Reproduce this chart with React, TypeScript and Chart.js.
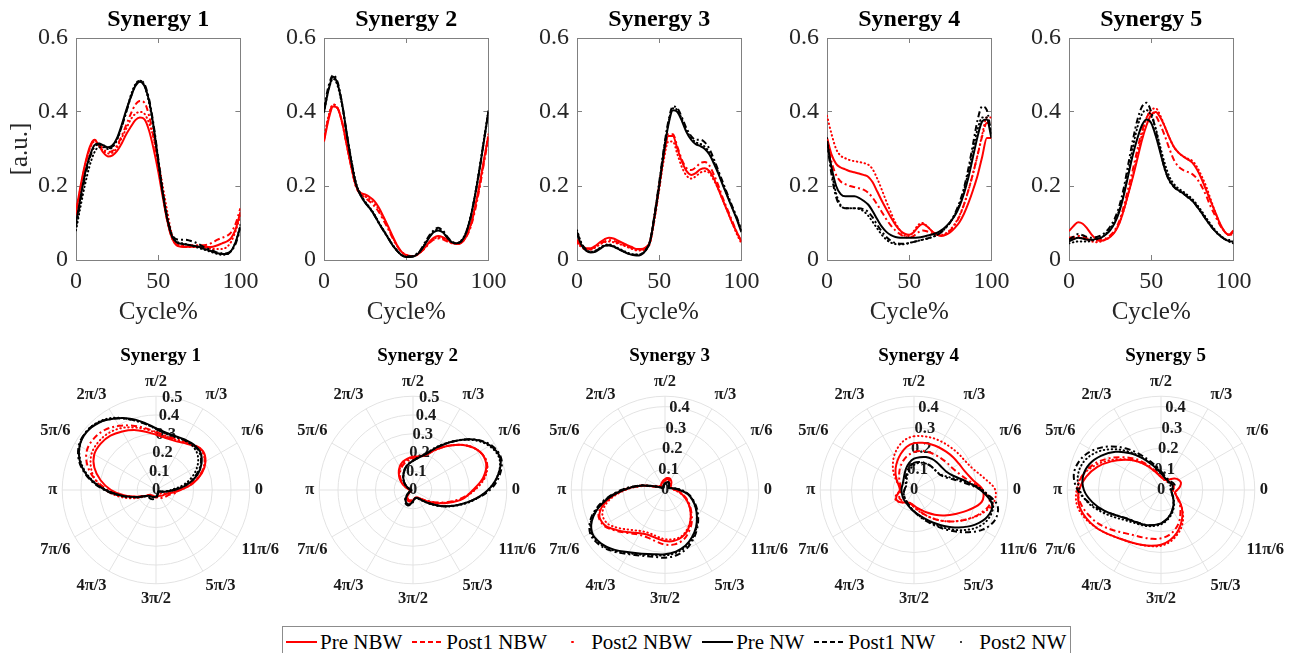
import React, { useEffect, useRef } from 'react';
import { Chart, registerables } from 'chart.js';

Chart.register(...registerables);

// ---------------- DATA ----------------
const CYCLE = [0, 2.78, 5.56, 8.33, 11.11, 13.89, 16.67, 19.44, 22.22, 25, 27.78, 30.56, 33.33, 36.11, 38.89, 41.67, 44.44, 47.22, 50, 52.78, 55.56, 58.33, 61.11, 63.89, 66.67, 69.44, 72.22, 75, 77.78, 80.56, 83.33, 86.11, 88.89, 91.67, 94.44, 97.22, 100];

const SERIES_LABELS = ['Pre NBW', 'Post1 NBW', 'Post2 NBW', 'Pre NW', 'Post1 NW', 'Post2 NW'];
const SYNERGY_TITLES = ['Synergy 1', 'Synergy 2', 'Synergy 3', 'Synergy 4', 'Synergy 5'];
const Y_TICK_VALUES = [0, 0.2, 0.4, 0.6];
const X_TICK_VALUES = [0, 50, 100];
const ANGLE_LABELS = ['0', 'π/6', 'π/3', 'π/2', '2π/3', '5π/6', 'π', '7π/6', '4π/3', '3π/2', '5π/3', '11π/6'];
const POLAR_MAX = [0.5, 0.5, 0.45, 0.45, 0.45];
const POLAR_RINGS_A = [0, 0.1, 0.2, 0.3, 0.4, 0.5];
const POLAR_RINGS_B = [0, 0.1, 0.2, 0.3, 0.4, 0.45];
const POLAR_LABELS_A = ['0', '0.1', '0.2', '0.3', '0.4', '0.5'];
const POLAR_LABELS_B = ['0', '0.1', '0.2', '0.3', '0.4'];

const S1_PRE_NBW = [0.13, 0.20, 0.26, 0.305, 0.325, 0.31, 0.29, 0.28, 0.283, 0.295, 0.315, 0.34, 0.36, 0.378, 0.385, 0.38, 0.35, 0.30, 0.24, 0.17, 0.105, 0.06, 0.04, 0.036, 0.035, 0.036, 0.036, 0.036, 0.035, 0.035, 0.036, 0.04, 0.045, 0.05, 0.06, 0.085, 0.13];
const S1_POST1_NBW = [0.12, 0.19, 0.255, 0.30, 0.325, 0.315, 0.3, 0.292, 0.295, 0.31, 0.335, 0.365, 0.395, 0.42, 0.43, 0.425, 0.39, 0.33, 0.255, 0.175, 0.105, 0.06, 0.042, 0.04, 0.04, 0.04, 0.04, 0.04, 0.04, 0.042, 0.048, 0.055, 0.06, 0.065, 0.075, 0.10, 0.14];
const S1_POST2_NBW = [0.13, 0.195, 0.255, 0.30, 0.32, 0.31, 0.295, 0.288, 0.29, 0.305, 0.33, 0.355, 0.38, 0.395, 0.40, 0.395, 0.37, 0.33, 0.27, 0.2, 0.13, 0.07, 0.045, 0.038, 0.036, 0.035, 0.035, 0.035, 0.034, 0.032, 0.03, 0.03, 0.03, 0.035, 0.05, 0.08, 0.12];
const S1_PRE_NW = [0.10, 0.17, 0.235, 0.28, 0.31, 0.315, 0.31, 0.305, 0.31, 0.33, 0.365, 0.405, 0.44, 0.47, 0.482, 0.47, 0.43, 0.36, 0.27, 0.18, 0.11, 0.065, 0.048, 0.044, 0.042, 0.04, 0.038, 0.035, 0.03, 0.027, 0.022, 0.018, 0.016, 0.016, 0.025, 0.05, 0.09];
const S1_POST1_NW = [0.09, 0.16, 0.225, 0.275, 0.305, 0.312, 0.307, 0.302, 0.307, 0.327, 0.36, 0.40, 0.44, 0.472, 0.485, 0.475, 0.435, 0.365, 0.275, 0.185, 0.115, 0.07, 0.056, 0.055, 0.055, 0.052, 0.048, 0.042, 0.035, 0.03, 0.025, 0.02, 0.018, 0.018, 0.025, 0.045, 0.085];
const S1_POST2_NW = [0.08, 0.145, 0.205, 0.255, 0.29, 0.305, 0.305, 0.30, 0.305, 0.325, 0.36, 0.40, 0.445, 0.475, 0.485, 0.47, 0.425, 0.355, 0.265, 0.18, 0.11, 0.065, 0.05, 0.046, 0.043, 0.04, 0.036, 0.032, 0.028, 0.024, 0.02, 0.016, 0.014, 0.015, 0.025, 0.05, 0.095];

const S2_PRE_NBW = [0.32, 0.38, 0.415, 0.41, 0.37, 0.31, 0.25, 0.20, 0.182, 0.177, 0.17, 0.16, 0.142, 0.118, 0.092, 0.065, 0.04, 0.022, 0.013, 0.01, 0.012, 0.02, 0.032, 0.048, 0.06, 0.065, 0.062, 0.055, 0.047, 0.044, 0.046, 0.06, 0.09, 0.14, 0.20, 0.27, 0.335];
const S2_POST1_NBW = [0.325, 0.385, 0.42, 0.41, 0.37, 0.31, 0.25, 0.198, 0.178, 0.168, 0.158, 0.146, 0.13, 0.108, 0.085, 0.06, 0.038, 0.022, 0.014, 0.011, 0.012, 0.02, 0.03, 0.045, 0.055, 0.058, 0.056, 0.05, 0.045, 0.043, 0.046, 0.06, 0.085, 0.13, 0.19, 0.26, 0.33];
const S2_POST2_NBW = [0.33, 0.39, 0.42, 0.41, 0.37, 0.31, 0.25, 0.2, 0.18, 0.172, 0.164, 0.153, 0.137, 0.113, 0.088, 0.062, 0.039, 0.022, 0.014, 0.01, 0.012, 0.02, 0.031, 0.046, 0.057, 0.06, 0.058, 0.052, 0.046, 0.044, 0.047, 0.062, 0.088, 0.135, 0.195, 0.265, 0.34];
const S2_PRE_NW = [0.40, 0.46, 0.495, 0.475, 0.42, 0.34, 0.265, 0.205, 0.175, 0.155, 0.14, 0.122, 0.10, 0.08, 0.06, 0.04, 0.025, 0.013, 0.008, 0.008, 0.012, 0.022, 0.04, 0.06, 0.075, 0.08, 0.075, 0.06, 0.048, 0.045, 0.05, 0.07, 0.11, 0.17, 0.24, 0.32, 0.40];
const S2_POST1_NW = [0.41, 0.47, 0.50, 0.48, 0.42, 0.34, 0.265, 0.205, 0.176, 0.156, 0.14, 0.122, 0.10, 0.08, 0.06, 0.04, 0.025, 0.013, 0.01, 0.01, 0.014, 0.025, 0.045, 0.065, 0.08, 0.087, 0.08, 0.063, 0.05, 0.046, 0.05, 0.07, 0.11, 0.17, 0.24, 0.32, 0.40];
const S2_POST2_NW = [0.40, 0.46, 0.49, 0.47, 0.415, 0.34, 0.27, 0.21, 0.178, 0.158, 0.142, 0.124, 0.102, 0.082, 0.062, 0.042, 0.026, 0.013, 0.009, 0.009, 0.013, 0.024, 0.042, 0.062, 0.078, 0.083, 0.077, 0.061, 0.048, 0.045, 0.052, 0.072, 0.112, 0.172, 0.245, 0.325, 0.405];

const S3_PRE_NBW = [0.055, 0.04, 0.032, 0.032, 0.038, 0.048, 0.056, 0.06, 0.058, 0.052, 0.046, 0.04, 0.035, 0.03, 0.03, 0.034, 0.05, 0.12, 0.20, 0.28, 0.335, 0.335, 0.30, 0.265, 0.24, 0.23, 0.235, 0.245, 0.248, 0.24, 0.22, 0.19, 0.16, 0.13, 0.10, 0.075, 0.05];
const S3_POST1_NBW = [0.05, 0.038, 0.03, 0.03, 0.036, 0.044, 0.05, 0.054, 0.052, 0.047, 0.042, 0.037, 0.032, 0.028, 0.028, 0.033, 0.05, 0.12, 0.20, 0.285, 0.34, 0.34, 0.305, 0.27, 0.248, 0.243, 0.25, 0.262, 0.265, 0.255, 0.23, 0.2, 0.165, 0.135, 0.105, 0.075, 0.05];
const S3_POST2_NBW = [0.045, 0.035, 0.028, 0.028, 0.034, 0.042, 0.048, 0.05, 0.048, 0.044, 0.04, 0.035, 0.03, 0.026, 0.026, 0.03, 0.046, 0.11, 0.19, 0.27, 0.32, 0.32, 0.285, 0.25, 0.228, 0.22, 0.226, 0.236, 0.24, 0.235, 0.215, 0.19, 0.16, 0.13, 0.10, 0.07, 0.045];
const S3_PRE_NW = [0.07, 0.04, 0.025, 0.02, 0.022, 0.03, 0.038, 0.04, 0.036, 0.03, 0.024, 0.018, 0.014, 0.012, 0.014, 0.025, 0.05, 0.12, 0.20, 0.29, 0.365, 0.405, 0.40, 0.375, 0.345, 0.325, 0.313, 0.308, 0.30, 0.285, 0.26, 0.232, 0.20, 0.17, 0.14, 0.11, 0.075];
const S3_POST1_NW = [0.075, 0.045, 0.028, 0.022, 0.024, 0.032, 0.038, 0.04, 0.036, 0.03, 0.024, 0.018, 0.015, 0.014, 0.016, 0.027, 0.052, 0.125, 0.21, 0.30, 0.375, 0.415, 0.41, 0.385, 0.355, 0.335, 0.325, 0.325, 0.318, 0.30, 0.272, 0.24, 0.208, 0.176, 0.145, 0.115, 0.08];
const S3_POST2_NW = [0.08, 0.045, 0.028, 0.022, 0.025, 0.033, 0.04, 0.042, 0.038, 0.032, 0.026, 0.02, 0.016, 0.015, 0.016, 0.026, 0.05, 0.12, 0.205, 0.295, 0.37, 0.41, 0.405, 0.38, 0.35, 0.33, 0.318, 0.314, 0.306, 0.29, 0.265, 0.235, 0.203, 0.172, 0.142, 0.112, 0.08];

const S4_PRE_NBW = [0.33, 0.285, 0.26, 0.25, 0.245, 0.24, 0.237, 0.234, 0.23, 0.225, 0.21, 0.185, 0.16, 0.137, 0.115, 0.095, 0.08, 0.071, 0.068, 0.075, 0.09, 0.097, 0.09, 0.078, 0.069, 0.065, 0.068, 0.075, 0.087, 0.102, 0.125, 0.155, 0.19, 0.23, 0.28, 0.33, 0.33];
const S4_POST1_NBW = [0.33, 0.265, 0.23, 0.212, 0.205, 0.2, 0.197, 0.194, 0.19, 0.182, 0.168, 0.15, 0.13, 0.11, 0.093, 0.08, 0.07, 0.063, 0.06, 0.065, 0.075, 0.08, 0.077, 0.072, 0.068, 0.066, 0.07, 0.08, 0.095, 0.118, 0.15, 0.19, 0.235, 0.285, 0.335, 0.37, 0.37];
const S4_POST2_NBW = [0.39, 0.34, 0.30, 0.282, 0.275, 0.27, 0.267, 0.265, 0.262, 0.258, 0.245, 0.22, 0.19, 0.158, 0.128, 0.1, 0.08, 0.066, 0.065, 0.078, 0.095, 0.1, 0.09, 0.078, 0.07, 0.068, 0.072, 0.082, 0.098, 0.12, 0.15, 0.19, 0.235, 0.285, 0.34, 0.385, 0.385];
const S4_PRE_NW = [0.32, 0.25, 0.2, 0.178, 0.172, 0.172, 0.172, 0.168, 0.16, 0.15, 0.132, 0.11, 0.09, 0.076, 0.067, 0.062, 0.06, 0.06, 0.06, 0.06, 0.061, 0.063, 0.066, 0.069, 0.073, 0.08, 0.09, 0.103, 0.12, 0.145, 0.18, 0.225, 0.28, 0.335, 0.375, 0.38, 0.33];
const S4_POST1_NW = [0.32, 0.23, 0.17, 0.145, 0.14, 0.14, 0.14, 0.14, 0.137, 0.13, 0.115, 0.095, 0.077, 0.062, 0.052, 0.046, 0.044, 0.044, 0.046, 0.049, 0.052, 0.055, 0.058, 0.062, 0.067, 0.075, 0.087, 0.102, 0.125, 0.155, 0.195, 0.25, 0.315, 0.38, 0.415, 0.405, 0.34];
const S4_POST2_NW = [0.33, 0.24, 0.18, 0.148, 0.14, 0.14, 0.14, 0.138, 0.132, 0.12, 0.103, 0.085, 0.068, 0.055, 0.047, 0.043, 0.042, 0.043, 0.046, 0.049, 0.052, 0.055, 0.058, 0.062, 0.067, 0.075, 0.087, 0.102, 0.123, 0.15, 0.19, 0.24, 0.30, 0.355, 0.385, 0.385, 0.34];

const S5_PRE_NBW = [0.078, 0.092, 0.102, 0.098, 0.085, 0.068, 0.056, 0.052, 0.055, 0.062, 0.075, 0.098, 0.135, 0.18, 0.225, 0.275, 0.325, 0.365, 0.393, 0.40, 0.385, 0.36, 0.33, 0.305, 0.29, 0.28, 0.272, 0.263, 0.245, 0.22, 0.19, 0.16, 0.13, 0.10, 0.078, 0.068, 0.08];
const S5_POST1_NBW = [0.06, 0.062, 0.065, 0.063, 0.058, 0.054, 0.052, 0.054, 0.058, 0.066, 0.08, 0.105, 0.145, 0.195, 0.245, 0.30, 0.35, 0.385, 0.40, 0.39, 0.365, 0.335, 0.30, 0.27, 0.252, 0.243, 0.238, 0.232, 0.22, 0.2, 0.175, 0.145, 0.12, 0.095, 0.078, 0.068, 0.07];
const S5_POST2_NBW = [0.055, 0.058, 0.06, 0.058, 0.054, 0.05, 0.048, 0.05, 0.055, 0.063, 0.077, 0.1, 0.135, 0.18, 0.23, 0.285, 0.34, 0.385, 0.405, 0.41, 0.39, 0.36, 0.33, 0.305, 0.29, 0.28, 0.274, 0.268, 0.252, 0.228, 0.2, 0.165, 0.13, 0.1, 0.078, 0.068, 0.075];
const S5_PRE_NW = [0.05, 0.056, 0.06, 0.058, 0.055, 0.055, 0.057, 0.06, 0.068, 0.08, 0.1, 0.13, 0.175, 0.23, 0.285, 0.33, 0.365, 0.38, 0.37, 0.335, 0.29, 0.245, 0.215, 0.198, 0.188, 0.18, 0.17, 0.16, 0.145, 0.128, 0.11, 0.093, 0.078, 0.066, 0.057, 0.051, 0.05];
const S5_POST1_NW = [0.055, 0.063, 0.07, 0.067, 0.062, 0.06, 0.062, 0.066, 0.075, 0.09, 0.112, 0.145, 0.195, 0.26, 0.325, 0.38, 0.415, 0.425, 0.40, 0.35, 0.295, 0.245, 0.213, 0.197, 0.187, 0.18, 0.17, 0.16, 0.145, 0.128, 0.11, 0.093, 0.078, 0.066, 0.057, 0.054, 0.055];
const S5_POST2_NW = [0.045, 0.048, 0.05, 0.05, 0.05, 0.052, 0.056, 0.06, 0.07, 0.085, 0.105, 0.135, 0.18, 0.24, 0.305, 0.36, 0.395, 0.405, 0.39, 0.355, 0.305, 0.26, 0.225, 0.205, 0.193, 0.185, 0.175, 0.165, 0.15, 0.133, 0.115, 0.097, 0.081, 0.068, 0.058, 0.05, 0.045];

const SYNERGY_DATA = [
  [S1_PRE_NBW, S1_POST1_NBW, S1_POST2_NBW, S1_PRE_NW, S1_POST1_NW, S1_POST2_NW],
  [S2_PRE_NBW, S2_POST1_NBW, S2_POST2_NBW, S2_PRE_NW, S2_POST1_NW, S2_POST2_NW],
  [S3_PRE_NBW, S3_POST1_NBW, S3_POST2_NBW, S3_PRE_NW, S3_POST1_NW, S3_POST2_NW],
  [S4_PRE_NBW, S4_POST1_NBW, S4_POST2_NBW, S4_PRE_NW, S4_POST1_NW, S4_POST2_NW],
  [S5_PRE_NBW, S5_POST1_NBW, S5_POST2_NBW, S5_PRE_NW, S5_POST1_NW, S5_POST2_NW],
];

// ---------------- STYLE / LAYOUT ----------------
const FONT = '"Liberation Serif", "Times New Roman", Times, serif';
const AXIS_COLOR = '#808080';
const TEXT_COLOR = '#262626';
const GRID_COLOR = '#e3e3e3';
const SERIES_STYLE = [
  { color: '#ff0000', dash: [], cap: 'butt' },
  { color: '#ff0000', dash: [6, 3, 2, 3], cap: 'butt' },
  { color: '#ff0000', dash: [0.5, 3.5], cap: 'round' },
  { color: '#000000', dash: [], cap: 'butt' },
  { color: '#000000', dash: [6, 3, 2, 3], cap: 'butt' },
  { color: '#000000', dash: [0.5, 3.5], cap: 'round' },
];
const PLOT_LEFT = [76, 324, 577, 827, 1069];
const PLOT_W = 171;
const PAD_R = 24;
const POLAR_CX = [155, 412, 664, 913, 1160];
const POLAR_W = 245;
const POLAR_H = 268;
const POLAR_TOP = 345;

const makeDatasets = (si: number, polar: boolean) =>
  SYNERGY_DATA[si].map((arr, i) => {
    const st = SERIES_STYLE[i];
    const data = polar
      ? Array.from({ length: 36 }, (_, k) => arr[(9 - k + 36) % 36])
      : CYCLE.map((x, j) => ({ x, y: arr[j] }));
    return {
      label: SERIES_LABELS[i],
      data,
      borderColor: st.color,
      backgroundColor: st.color,
      borderDash: st.dash,
      borderCapStyle: st.cap,
      borderWidth: 2,
      pointRadius: 0,
      fill: false,
      order: 6 - i,
      ...(polar ? { tension: 0.35 } : { cubicInterpolationMode: 'monotone' }),
    };
  });

const rLabelPlugin = {
  id: 'rLabels',
  beforeDatasetsDraw(chart: any, _args: any, opts: any) {
    const s = chart.scales.r;
    const ctx = chart.ctx;
    ctx.save();
    ctx.font = `bold 16.5px ${FONT}`;
    ctx.fillStyle = '#1a1a1a';
    ctx.textAlign = 'center';
    ctx.textBaseline = 'middle';
    const a = (80 * Math.PI) / 180;
    (opts.labels as string[]).forEach((lab, i) => {
      const d = s.getDistanceFromCenterForValue(opts.values[i]);
      ctx.fillText(lab, s.xCenter + d * Math.cos(a), s.yCenter - d * Math.sin(a));
    });
    ctx.restore();
  },
};

function LineChart({ si }: { si: number }) {
  const ref = useRef<HTMLCanvasElement>(null);
  const yW = si === 0 ? 76 : 50;
  const width = yW + PLOT_W + PAD_R;
  useEffect(() => {
    const tickFont = { family: FONT, size: 24 };
    const chart = new Chart(ref.current as HTMLCanvasElement, {
      type: 'line',
      data: { datasets: makeDatasets(si, false) as any },
      options: {
        animation: false,
        responsive: false,
        events: [],
        layout: { padding: { left: 0, right: PAD_R, top: 0, bottom: 0 } },
        plugins: {
          legend: { display: false },
          tooltip: { enabled: false },
          title: {
            display: true,
            fullSize: false,
            text: SYNERGY_TITLES[si],
            color: '#000',
            font: { family: FONT, size: 24, weight: 'bold' },
            padding: { top: 5.6, bottom: 3.6 },
          },
        },
        scales: {
          x: {
            type: 'linear',
            position: 'bottom',
            min: 0,
            max: 100,
            afterBuildTicks: (s: any) => { s.ticks = X_TICK_VALUES.map((v) => ({ value: v })); },
            ticks: { font: tickFont, color: TEXT_COLOR, padding: 12.6, maxRotation: 0, autoSkip: false },
            grid: { drawOnChartArea: false, drawTicks: true, tickLength: -5, color: AXIS_COLOR },
            border: { display: true, color: AXIS_COLOR },
            title: { display: true, text: 'Cycle%', color: TEXT_COLOR, font: { family: FONT, size: 25 }, padding: { top: 0, bottom: 3 } },
            afterFit: (s: any) => { s.height = 70; },
          },
          y: {
            type: 'linear',
            position: 'left',
            min: 0,
            max: 0.6,
            afterBuildTicks: (s: any) => { s.ticks = Y_TICK_VALUES.map((v) => ({ value: v })); },
            ticks: { font: tickFont, color: TEXT_COLOR, padding: 13, autoSkip: false },
            grid: { drawOnChartArea: false, drawTicks: true, tickLength: -5, color: AXIS_COLOR },
            border: { display: true, color: AXIS_COLOR },
            title: si === 0
              ? { display: true, text: '[a.u.]', color: TEXT_COLOR, font: { family: FONT, size: 25 }, padding: { top: 5, bottom: 0 } }
              : { display: false },
            afterFit: (s: any) => { s.width = yW; },
          },
          x2: {
            type: 'linear',
            position: 'top',
            min: 0,
            max: 100,
            afterBuildTicks: (s: any) => { s.ticks = X_TICK_VALUES.map((v) => ({ value: v })); },
            ticks: { display: false },
            grid: { drawOnChartArea: false, drawTicks: true, tickLength: -5, color: AXIS_COLOR },
            border: { display: true, color: AXIS_COLOR },
            afterFit: (s: any) => { s.height = 0; },
          },
          y2: {
            type: 'linear',
            position: 'right',
            min: 0,
            max: 0.6,
            afterBuildTicks: (s: any) => { s.ticks = Y_TICK_VALUES.map((v) => ({ value: v })); },
            ticks: { display: false },
            grid: { drawOnChartArea: false, drawTicks: true, tickLength: -5, color: AXIS_COLOR },
            border: { display: true, color: AXIS_COLOR },
            afterFit: (s: any) => { s.width = 0; },
          },
        },
      } as any,
    });
    return () => chart.destroy();
  }, [si, yW]);
  return (
    <canvas
      ref={ref}
      width={width}
      height={330}
      style={{ position: 'absolute', left: PLOT_LEFT[si] - yW, top: 0, width, height: 330 }}
    />
  );
}

function PolarChart({ si }: { si: number }) {
  const ref = useRef<HTMLCanvasElement>(null);
  useEffect(() => {
    const rings = POLAR_MAX[si] === 0.5 ? POLAR_RINGS_A : POLAR_RINGS_B;
    const rLabels = POLAR_MAX[si] === 0.5 ? POLAR_LABELS_A : POLAR_LABELS_B;
    const labels = Array.from({ length: 36 }, (_, k) => {
      const j = (9 - k + 36) % 36;
      return j % 3 === 0 ? ANGLE_LABELS[j / 3] : '';
    });
    const chart = new Chart(ref.current as HTMLCanvasElement, {
      type: 'radar',
      data: { labels, datasets: makeDatasets(si, true) as any },
      options: {
        animation: false,
        responsive: false,
        events: [],
        layout: { padding: 0 },
        plugins: {
          legend: { display: false },
          tooltip: { enabled: false },
          title: {
            display: true,
            text: SYNERGY_TITLES[si],
            color: '#000',
            font: { family: FONT, size: 19, weight: 'bold' },
            padding: { top: 0, bottom: 0 },
          },
          rLabels: { values: rings.slice(0, rLabels.length), labels: rLabels },
        },
        scales: {
          r: {
            min: 0,
            max: POLAR_MAX[si],
            beginAtZero: true,
            startAngle: 0,
            afterBuildTicks: (s: any) => { s.ticks = rings.map((v) => ({ value: v })); },
            ticks: { display: false },
            grid: { circular: true, color: GRID_COLOR, lineWidth: 1 },
            angleLines: {
              display: true,
              color: (c: any) => (c.index % 3 === 0 ? GRID_COLOR : 'rgba(0,0,0,0)'),
              lineWidth: 1,
            },
            pointLabels: { font: { family: FONT, size: 16.5, weight: 'bold' }, color: '#1a1a1a', padding: 5 },
          },
        },
      } as any,
      plugins: [rLabelPlugin as any],
    });
    return () => chart.destroy();
  }, [si]);
  return (
    <canvas
      ref={ref}
      width={POLAR_W}
      height={POLAR_H}
      style={{ position: 'absolute', left: POLAR_CX[si] - 117, top: POLAR_TOP, width: POLAR_W, height: POLAR_H }}
    />
  );
}

function LegendSample({ i }: { i: number }) {
  const st = SERIES_STYLE[i];
  let inner: React.ReactNode;
  if (i % 3 === 0) {
    inner = <div style={{ width: 31, height: 2, background: st.color }} />;
  } else if (i % 3 === 1) {
    inner = <div style={{ width: 31, height: 2, background: `repeating-linear-gradient(to right, ${st.color} 0 5px, transparent 5px 8px)` }} />;
  } else {
    inner = <div style={{ width: 2.5, height: 2.5, borderRadius: '50%', background: st.color }} />;
  }
  return (
    <div style={{ width: 31, height: 20, display: 'flex', alignItems: 'center', justifyContent: 'center', marginRight: 3 }}>
      {inner}
    </div>
  );
}

export default function App() {
  useEffect(() => {
    document.body.style.margin = '0';
  }, []);
  return (
    <div style={{ position: 'absolute', left: 0, top: 0, width: 1302, height: 653, background: '#fff', overflow: 'hidden' }}>
      {SYNERGY_TITLES.map((_, si) => <LineChart key={'l' + si} si={si} />)}
      {SYNERGY_TITLES.map((_, si) => <PolarChart key={'p' + si} si={si} />)}
      <div
        style={{
          position: 'absolute',
          left: 282,
          top: 626,
          height: 32,
          border: '1px solid #8c8c8c',
          boxSizing: 'border-box',
          display: 'flex',
          alignItems: 'center',
          padding: '0 4px 0 3px',
          fontFamily: FONT,
          fontSize: 21,
          color: '#000',
          background: '#fff',
          whiteSpace: 'nowrap',
        }}
      >
        {SERIES_LABELS.map((lab, i) => (
          <div key={lab} style={{ display: 'flex', alignItems: 'center', marginRight: i < 5 ? 10 : 0 }}>
            <LegendSample i={i} />
            <span>{lab}</span>
          </div>
        ))}
      </div>
    </div>
  );
}
